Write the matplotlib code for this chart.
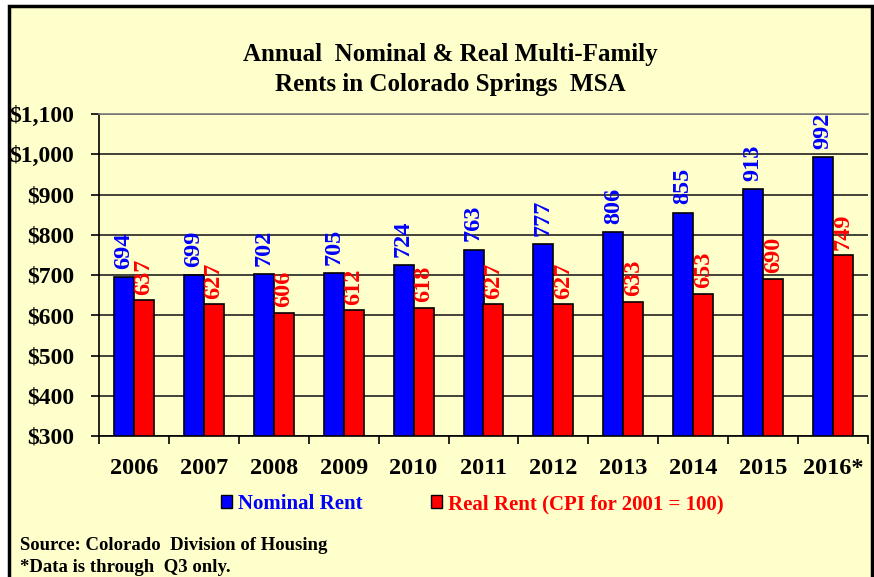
import matplotlib.pyplot as plt
from matplotlib.patches import Rectangle, Patch
from matplotlib.ticker import FuncFormatter, MultipleLocator
import numpy as np

years = ['2006', '2007', '2008', '2009', '2010', '2011', '2012', '2013', '2014', '2015', '2016*']
nominal = [694, 699, 702, 705, 724, 763, 777, 806, 855, 913, 992]
real = [637, 627, 606, 612, 618, 627, 627, 633, 653, 690, 749]

bg = '#FFFFCC'
W, H = 874, 577

plt.rcParams['font.family'] = ['Liberation Serif', 'DejaVu Serif']
plt.rcParams['font.weight'] = 'bold'

fig = plt.figure(figsize=(W / 100, H / 100), dpi=100)
fig.patch.set_facecolor('white')

# outer chart frame (bottom runs off the image)
frame = Rectangle((8.5 / W, -0.05), (871.5 - 8.5) / W, 1.05 - 5.5 / H,
                  transform=fig.transFigure, facecolor=bg, edgecolor='black',
                  linewidth=2.5, zorder=-10)
fig.patches.append(frame)

ax = fig.add_axes([99 / W, 1 - 436 / H, (868 - 99) / W, (436 - 114) / H])
ax.set_facecolor(bg)

x = np.arange(len(years))
w = 0.286
ax.bar(x - w / 2, [v - 300 for v in nominal], w, bottom=300, color='#0000FF',
       edgecolor='black', linewidth=1.2, zorder=3)
ax.bar(x + w / 2, [v - 300 for v in real], w, bottom=300, color='#FF0000',
       edgecolor='black', linewidth=1.2, zorder=3)

for xi, v in zip(x, nominal):
    ax.annotate(str(v), (xi - w / 2, v), xytext=(0, 6), textcoords='offset points',
                rotation=90, ha='center', va='bottom', color='#0000FF',
                fontsize=17.5, fontweight='bold')
for xi, v in zip(x, real):
    ax.annotate(str(v), (xi + w / 2, v), xytext=(0, 4), textcoords='offset points',
                rotation=90, ha='center', va='bottom', color='#FF0000',
                fontsize=17.5, fontweight='bold')

ax.set_xlim(-0.5, len(years) - 0.5)
ax.set_ylim(300, 1100)
ax.yaxis.set_major_locator(MultipleLocator(100))
ax.yaxis.set_major_formatter(FuncFormatter(lambda v, p: '${:,.0f}'.format(v)))
ax.grid(axis='y', color='#222222', linewidth=1.2, zorder=0)

ax.set_xticks(x)
ax.set_xticklabels(years)
ax.set_xticks(np.arange(-0.5, len(years) - 0.4, 1), minor=True)
ax.tick_params(axis='x', which='major', length=0, pad=16, labelsize=17.5)
ax.tick_params(axis='x', which='minor', length=6, width=1.2, direction='out')
ax.tick_params(axis='y', length=6, width=1.2, direction='out', labelsize=17, pad=12)

for s in ['left', 'bottom']:
    ax.spines[s].set_color('black')
    ax.spines[s].set_linewidth(1.2)
ax.spines['right'].set_visible(False)
ax.spines['top'].set_color('#808080')
ax.spines['top'].set_linewidth(1.2)

fig.text(0.515, 1 - 55 / H, 'Annual  Nominal & Real Multi-Family', ha='center', va='center',
         fontsize=18, fontweight='bold')
fig.text(0.515, 1 - 85 / H, 'Rents in Colorado Springs  MSA', ha='center', va='center',
         fontsize=18, fontweight='bold')

handles = [Patch(facecolor='#0000FF', edgecolor='black', linewidth=1),
           Patch(facecolor='#FF0000', edgecolor='black', linewidth=1)]
fig.legend(handles, ['Nominal Rent', 'Real Rent (CPI for 2001 = 100)'],
           loc='center', bbox_to_anchor=(472 / W, 1 - 504 / H), ncol=2, frameon=False,
           labelcolor=['#0000FF', '#FF0000'], handlelength=0.55,
           handleheight=0.55, handletextpad=0.25, columnspacing=3.3,
           prop={'weight': 'bold', 'size': 15})

fig.text(20 / W, 1 - 545 / H, 'Source: Colorado  Division of Housing', ha='left', va='center',
         fontsize=13.5, fontweight='bold')
fig.text(20 / W, 1 - 567 / H, '*Data is through  Q3 only.', ha='left', va='center',
         fontsize=13.5, fontweight='bold')

fig.savefig('out.png', dpi=100, facecolor='white')
